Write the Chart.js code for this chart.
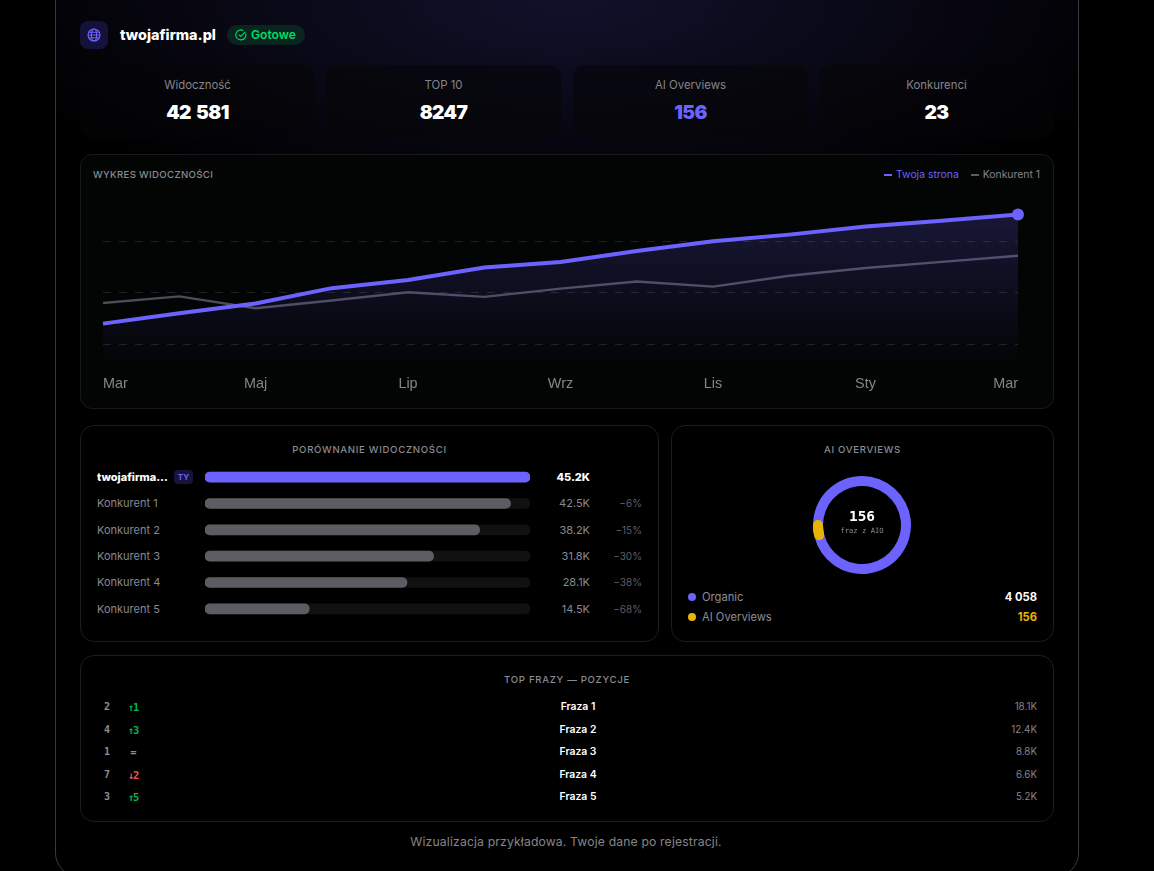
<!DOCTYPE html>
<html lang="pl">
<head>
<meta charset="utf-8">
<title>twojafirma.pl</title>
<script src="https://cdn.jsdelivr.net/npm/chart.js@4"></script>
<style>
    html, body { margin: 0; height: 100%; background: #000; overflow: hidden; }
    body { position: relative; width: 1154px; height: 871px; font-family: Inter, "Open Sans", sans-serif; color: #fff; }
    .abs, canvas { position: absolute; display: block; }
    .shell { left: 55px; top: -40px; width: 1022px; height: 915px; border: 1px solid #3a3a3e; border-radius: 24px;
        background: radial-gradient(ellipse 620px 225px at 50% 40px, rgba(108, 99, 255, .17), rgba(108, 99, 255, 0) 100%), #000; }
    .logo { left: 80px; top: 21px; width: 28px; height: 28px; border-radius: 8px; background: #14123a; }
    .logo svg { position: absolute; left: 7px; top: 7px; }
    .domain { left: 120px; top: 24px; font-size: 14.4px; line-height: 22px; font-weight: 800; }
    .badge { left: 227px; top: 25px; width: 78px; height: 20px; border-radius: 10px; background: #0a2420; color: #00dc66; font-size: 12.1px; font-weight: 600; line-height: 20px; }
    .badge svg { position: absolute; left: 8px; top: 4px; }
    .badge span { position: absolute; left: 24px; }
    .stat { top: 65px; width: 235px; height: 73px; border-radius: 12px; background: rgba(6, 6, 8, .55); text-align: center; }
    .stat .lbl { position: absolute; left: 0; right: 0; top: 13px; font-size: 11.4px; line-height: 14px; color: #85858c; }
    .stat .val { position: absolute; left: 0; right: 0; top: 33px; font-size: 19.2px; line-height: 28px; font-weight: 900; letter-spacing: -.6px; word-spacing: 2px; }
    .card { border: 1px solid #1d1d20; border-radius: 14px; background: #000; box-sizing: border-box; }
    .head { font-size: 9.6px; line-height: 12px; letter-spacing: .7px; font-weight: 500; color: #8b8b92; white-space: nowrap; }
    .center { text-align: center; }
    .legend { top: 168.5px; right: 114px; display: flex; gap: 12px; font-size: 10.4px; line-height: 12px; }
    .legend div { display: flex; align-items: center; gap: 4px; }
    .legend i { width: 8px; height: 2px; display: block; }
    .rows { left: 97px; top: 463.9px; width: 545px; display: grid; grid-auto-rows: 26.4px; font-size: 11px; color: #88888f; }
    .rows > div { position: relative; line-height: 26.4px; }
    .rows .name { position: absolute; left: 0; width: 71px; overflow: hidden; white-space: nowrap; text-overflow: ellipsis; }
    .rows .num { position: absolute; right: 52px; }
    .rows .pct { position: absolute; right: 0; font-size: 10px; color: #5e5e65; }
    .rows .own { color: #fff; font-weight: 800; }
    .ty { position: absolute; left: 77px; top: 6.2px; width: 19px; height: 14px; border-radius: 4px; background: #16143c; color: #6c63ff; font-size: 8px; line-height: 14px; font-weight: 700; text-align: center; }
    .mono { font-family: "DejaVu Sans Mono", monospace; }
    .ring-big { left: 813px; top: 507px; width: 98px; text-align: center; font-size: 14.4px; line-height: 18px; font-weight: 700; }
    .ring-small { left: 813px; top: 526px; width: 98px; text-align: center; font-size: 7.2px; line-height: 10px; color: #8a8a90; }
    .key { left: 688px; width: 349px; height: 20px; font-size: 11.2px; line-height: 20px; color: #8d8d94; }
    .key i { position: absolute; left: 0; top: 6px; width: 8px; height: 8px; border-radius: 50%; }
    .key span { position: absolute; left: 14px; }
    .key b { position: absolute; right: 0; font-weight: 700; }
    .phrases { left: 97px; top: 696.3px; width: 940px; display: grid; grid-auto-rows: 22.5px; font-size: 10.4px; line-height: 22.4px; }
    .phrases > div { position: relative; }
    .phrases .pos { position: absolute; left: 0; width: 20px; text-align: center; color: #8d8d94; font-weight: 700; font-size: 10px; }
    .phrases .move { position: absolute; left: 24px; width: 24px; text-align: center; font-size: 10.4px; font-weight: 700; letter-spacing: -1px; }
    .phrases .term { position: absolute; left: 0; width: 962px; text-align: center; font-weight: 600; }
    .phrases .vol { position: absolute; right: 0; color: #85858c; font-size: 9.8px; }
    .foot { left: 55px; top: 834px; width: 1022px; text-align: center; font-size: 12.2px; line-height: 16px; color: #85858c; letter-spacing: .15px; }
</style>
</head>
<body>
<div class="abs shell"></div>

<div class="abs logo">
    <svg width="14" height="14" viewBox="0 0 14 14" fill="none" stroke="#6c63ff" stroke-width="1.1">
        <circle cx="7" cy="7" r="6"/><ellipse cx="7" cy="7" rx="2.6" ry="6"/><path d="M1 7h12M1.8 4.2h10.4M1.8 9.8h10.4"/>
    </svg>
</div>
<div class="abs domain">twojafirma.pl</div>
<div class="abs badge">
    <svg width="12" height="12" viewBox="0 0 12 12" fill="none" stroke="#00dc66" stroke-width="1.1">
        <path d="M10.6 4.4A5 5 0 1 1 8.4 1.6"/><path d="M4 5.6l1.8 1.8 4.4-4.6"/>
    </svg>
    <span>Gotowe</span>
</div>
<div id="stats"></div>

<div class="abs card" style="left:80px;top:154px;width:974px;height:255px;background:#030404;border-radius:12px;border-color:#17181a"></div>
<div class="abs head" style="left:93px;top:168.5px;letter-spacing:.35px">WYKRES WIDOCZNOŚCI</div>
<div class="abs legend" id="lineLegend"></div>
<canvas id="lineChart" width="972" height="253" style="left:81px;top:155px"></canvas>

<div class="abs card" style="left:80px;top:425px;width:579px;height:217px"></div>
<div class="abs head center" style="left:80px;top:444px;width:579px">PORÓWNANIE WIDOCZNOŚCI</div>
<div class="abs rows" id="barRows"></div>
<canvas id="barChart" width="325" height="158" style="left:205px;top:464px"></canvas>

<div class="abs card" style="left:671px;top:425px;width:383px;height:217px"></div>
<div class="abs head center" style="left:671px;top:444px;width:383px">AI OVERVIEWS</div>
<canvas id="ringChart" width="98" height="98" style="left:813px;top:476px"></canvas>
<div class="abs ring-big mono" id="ringValue"></div>
<div class="abs ring-small mono">fraz z AIO</div>
<div id="ringKeys"></div>

<div class="abs card" style="left:80px;top:655px;width:974px;height:167px"></div>
<div class="abs head center" style="left:80px;top:674px;width:974px">TOP FRAZY — POZYCJE</div>
<div class="abs phrases" id="phraseRows"></div>

<div class="abs foot">Wizualizacja przykładowa. Twoje dane po rejestracji.</div>

<script>
const statLabels = ["Widoczność", "TOP 10", "AI Overviews", "Konkurenci"];
const statValues = ["42 581", "8247", "156", "23"];
const statLeft = [80, 326, 573, 819];

const months = ["Mar", "Kwi", "Maj", "Cze", "Lip", "Sie", "Wrz", "Paź", "Lis", "Gru", "Sty", "Lut", "Mar"];
const ownSeries = [140, 160, 179, 209, 225, 249, 260, 281, 300, 313, 329, 340, 352];
const rivalSeries = [180, 193, 170, 185, 201, 192, 208, 222, 212, 233, 248, 260, 272];
const gridValues = [100, 200, 300];
const seriesNames = ["Twoja strona", "Konkurent 1"];

const barNames = ["twojafirma.pl", "Konkurent 1", "Konkurent 2", "Konkurent 3", "Konkurent 4", "Konkurent 5"];
const barValues = [45.2, 42.5, 38.2, 31.8, 28.1, 14.5];
const barDeltas = ["", "−6%", "−15%", "−30%", "−38%", "−68%"];

const ringLabels = ["Organic", "AI Overviews"];
const ringValues = [4058, 156];
const ringTexts = ["4 058", "156"];

const phrases = ["Fraza 1", "Fraza 2", "Fraza 3", "Fraza 4", "Fraza 5"];
const positions = [2, 4, 1, 7, 3];
const moves = ["↑1", "↑3", "=", "↓2", "↑5"];
const volumes = ["18.1K", "12.4K", "8.8K", "6.6K", "5.2K"];

const PURPLE = "#6c63ff";
const GREY = "#5c5c63";
const AMBER = "#eab308";

Chart.defaults.animation = false;
Chart.defaults.responsive = false;
Chart.defaults.plugins.legend.display = false;
Chart.defaults.plugins.tooltip.enabled = false;

// kafelki z liczbami
document.getElementById("stats").innerHTML = statLabels.map((label, i) =>
    `<div class="abs stat" style="left:${statLeft[i]}px"><div class="lbl">${label}</div>` +
    `<div class="val" style="color:${i === 2 ? PURPLE : "#fff"}">${statValues[i]}</div></div>`
).join("");

document.getElementById("lineLegend").innerHTML =
    `<div style="color:${PURPLE}"><i style="background:${PURPLE}"></i>${seriesNames[0]}</div>` +
    `<div style="color:#85858c"><i style="background:${GREY}"></i>${seriesNames[1]}</div>`;

// wykres widoczności
new Chart(document.getElementById("lineChart"), {
    type: "line",
    data: {
        labels: months,
        datasets: [
            {
                label: seriesNames[0],
                data: ownSeries,
                borderColor: PURPLE,
                borderWidth: 4,
                tension: 0,
                clip: false,
                fill: "start",
                backgroundColor: (ctx) => {
                    const area = ctx.chart.chartArea;
                    if (!area) return "transparent";
                    const g = ctx.chart.ctx.createLinearGradient(0, area.top + 20, 0, area.bottom);
                    g.addColorStop(0, "rgba(108,99,255,.2)");
                    g.addColorStop(1, "rgba(108,99,255,.015)");
                    return g;
                },
                pointRadius: (ctx) => (ctx.dataIndex === months.length - 1 ? 6 : 0),
                pointBackgroundColor: PURPLE,
                pointBorderWidth: 0,
                order: 1
            },
            {
                label: seriesNames[1],
                data: rivalSeries,
                borderColor: "#4d4b57",
                borderWidth: 2.4,
                tension: 0,
                fill: false,
                pointRadius: 0,
                order: 2
            }
        ]
    },
    options: {
        layout: { padding: { left: 22, right: 35, top: 40, bottom: 9 } },
        scales: {
            x: {
                grid: { display: false },
                border: { display: false },
                ticks: {
                    align: "inner",
                    autoSkip: false,
                    maxRotation: 0,
                    padding: 6,
                    color: "#85858c",
                    font: { family: "'Liberation Sans'", size: 14.4 },
                    callback: (value, i) => (i % 2 === 0 ? months[i] : "")
                }
            },
            y: {
                min: 66,
                max: 390,
                afterBuildTicks: (axis) => { axis.ticks = gridValues.map((value) => ({ value })); },
                ticks: { display: false },
                grid: { color: "rgba(255,255,255,.11)", drawTicks: false },
                border: { display: false, dash: [8, 8] }
            }
        }
    }
});

// porównanie widoczności
document.getElementById("barRows").innerHTML = barNames.map((name, i) => {
    const own = i === 0 ? " own" : "";
    const badge = i === 0 ? '<span class="ty">TY</span>' : "";
    return `<div><span class="name${own}">${name}</span>${badge}` +
        `<span class="num${own}">${barValues[i].toFixed(1)}K</span><span class="pct">${barDeltas[i]}</span></div>`;
}).join("");

new Chart(document.getElementById("barChart"), {
    type: "bar",
    data: {
        labels: barNames,
        datasets: [
            {
                data: barValues,
                backgroundColor: barValues.map((v, i) => (i === 0 ? PURPLE : GREY)),
                barThickness: 10,
                borderRadius: 5,
                borderSkipped: false,
                order: 1
            },
            {
                data: barValues.map(() => barValues[0]),
                backgroundColor: "#111112",
                barThickness: 10,
                borderRadius: 5,
                borderSkipped: false,
                order: 2
            }
        ]
    },
    options: {
        indexAxis: "y",
        layout: { padding: 0 },
        scales: {
            x: { display: false, min: 0, max: barValues[0], stacked: false },
            y: { display: false, stacked: true }
        },
        datasets: { bar: { grouped: false } }
    }
});

// pierścień AI Overviews, krótki łuk ma zaokrąglone końce
const roundCap = {
    id: "roundCap",
    afterDatasetsDraw(chart) {
        const arc = chart.getDatasetMeta(0).data[1];
        const { x, y, startAngle, endAngle, innerRadius, outerRadius } = arc.getProps(
            ["x", "y", "startAngle", "endAngle", "innerRadius", "outerRadius"]);
        const c = chart.ctx;
        c.save();
        c.beginPath();
        c.arc(x, y, (innerRadius + outerRadius) / 2, startAngle, endAngle);
        c.lineWidth = outerRadius - innerRadius;
        c.lineCap = "round";
        c.strokeStyle = AMBER;
        c.stroke();
        c.restore();
    }
};

new Chart(document.getElementById("ringChart"), {
    type: "doughnut",
    data: {
        labels: ringLabels,
        datasets: [{ data: ringValues, backgroundColor: [PURPLE, AMBER], borderWidth: 0 }]
    },
    options: { rotation: 270, cutout: 39, layout: { padding: 0 } },
    plugins: [roundCap]
});

document.getElementById("ringValue").textContent = ringTexts[1];
document.getElementById("ringKeys").innerHTML = ringLabels.map((label, i) =>
    `<div class="abs key" style="top:${587 + i * 20}px"><i style="background:${i ? AMBER : PURPLE}"></i>` +
    `<span>${label}</span><b style="color:${i ? AMBER : "#fff"}">${ringTexts[i]}</b></div>`
).join("");

// tabela fraz
function moveColor(m) {
    if (m[0] === "↑") return "#00b84f";
    if (m[0] === "↓") return "#ef5350";
    return "#8d8d94";
}

document.getElementById("phraseRows").innerHTML = phrases.map((term, i) =>
    `<div><span class="pos mono">${positions[i]}</span>` +
    `<span class="move mono" style="color:${moveColor(moves[i])}">${moves[i]}</span>` +
    `<span class="term">${term}</span><span class="vol">${volumes[i]}</span></div>`
).join("");
</script>
</body>
</html>
